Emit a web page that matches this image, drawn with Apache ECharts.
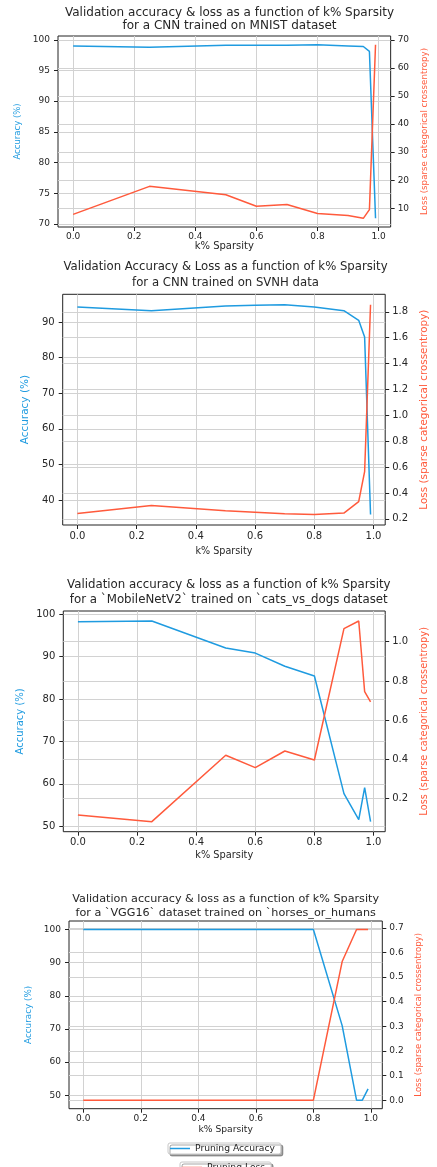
<!DOCTYPE html>
<html>
<head>
<meta charset="utf-8">
<script src="https://cdn.jsdelivr.net/npm/echarts@6/dist/echarts.min.js"></script>
<style>
html,body{margin:0;padding:0;background:#fff;}
#chart{width:437px;height:1167px;}
</style>
</head>
<body>
<div id="chart"></div>
<script>
// ---- data ----
const sparsity = [0, 0.25, 0.5, 0.6, 0.7, 0.8, 0.9, 0.95, 0.97, 0.99];

const mnistAcc  = [99.0, 98.8, 99.1, 99.1, 99.1, 99.2, 99.0, 98.9, 98.1, 70.9];
const mnistLoss = [7.8, 17.8, 14.8, 10.7, 11.3, 8.1, 7.4, 6.4, 9.5, 68.3];

const svhnAcc  = [94.2, 93.2, 94.5, 94.7, 94.85, 94.2, 93.2, 90.5, 85.8, 35.9];
const svhnLoss = [0.241, 0.303, 0.262, 0.251, 0.238, 0.233, 0.244, 0.333, 0.564, 1.854];

const catsAcc  = [98.2, 98.35, 92.0, 90.8, 87.7, 85.4, 57.7, 51.6, 59.1, 51.1];
const catsLoss = [0.117, 0.083, 0.421, 0.358, 0.443, 0.397, 1.066, 1.105, 0.745, 0.693];

const horsesAcc  = [100, 100, 100, 100, 100, 100, 71.0, 48.5, 48.5, 51.9];
const horsesLoss = [0, 0, 0, 0, 0, 0, 0.563, 0.693, 0.693, 0.693];

// tick labels
const xTicks = [0, 0.2, 0.4, 0.6, 0.8, 1.0];
const mnistAccTicks  = [70, 75, 80, 85, 90, 95, 100];
const mnistLossTicks = [10, 20, 30, 40, 50, 60, 70];
const svhnAccTicks   = [40, 50, 60, 70, 80, 90];
const svhnLossTicks  = [0.2, 0.4, 0.6, 0.8, 1.0, 1.2, 1.4, 1.6, 1.8];
const catsAccTicks   = [50, 60, 70, 80, 90, 100];
const catsLossTicks  = [0.2, 0.4, 0.6, 0.8, 1.0];
const horsesAccTicks = [50, 60, 70, 80, 90, 100];
const horsesLossTicks = [0.0, 0.1, 0.2, 0.3, 0.4, 0.5, 0.6, 0.7];

const titles = [
  'Validation accuracy & loss as a function of k% Sparsity\nfor a CNN trained on MNIST dataset',
  'Validation Accuracy & Loss as a function of k% Sparsity\nfor a CNN trained on SVNH data',
  'Validation accuracy & loss as a function of k% Sparsity\nfor a `MobileNetV2` trained on `cats_vs_dogs dataset',
  'Validation accuracy & loss as a function of k% Sparsity\nfor a `VGG16` dataset trained on `horses_or_humans'
];

// ---- styling / layout ----
const BLUE = '#1f9be0';
const RED = '#ff5a3c';
const FONT = 'DejaVu Sans';
const TXT = '#262626';
const GRIDC = '#d2d2d2';

// matplotlib-like 5% margins
function pad(arr) {
  const mn = Math.min.apply(null, arr), mx = Math.max.apply(null, arr);
  const r = mx - mn;
  return [mn - 0.05 * r, mx + 0.05 * r];
}

const panels = [
  {acc: mnistAcc, loss: mnistLoss, accT: mnistAccTicks, lossT: mnistLossTicks, lossFmt: v => String(v), accFmt: v => String(v),
   grid: {left: 58, top: 36, width: 343, height: 191},
   title: {top: 7, size: 12, lh: 12.4},
   tick: 9, xMargin: 5, xName: 10, xGap: 14, yName: 8.5, yGap: 33, rName: 8.7, rGap: 24},
  {acc: svhnAcc, loss: svhnLoss, accT: svhnAccTicks, lossT: svhnLossTicks, lossFmt: v => v.toFixed(1), accFmt: v => String(v),
   grid: {left: 62.7, top: 294.3, width: 325.6, height: 230.7},
   title: {top: 259.5, size: 11.7, lh: 15.7},
   tick: 10, xMargin: 6, xName: 9.6, xGap: 21, yName: 10.5, yGap: 25, rName: 10.4, rGap: 24},
  {acc: catsAcc, loss: catsLoss, accT: catsAccTicks, lossT: catsLossTicks, lossFmt: v => v.toFixed(1), accFmt: v => String(v),
   grid: {left: 63.3, top: 611, width: 331, height: 220.7},
   title: {top: 577.5, size: 11.8, lh: 15},
   tick: 10, xMargin: 6, xName: 9.8, xGap: 19, yName: 10, yGap: 30, rName: 9.8, rGap: 24},
  {acc: horsesAcc, loss: horsesLoss, accT: horsesAccTicks, lossT: horsesLossTicks, lossFmt: v => v.toFixed(1), accFmt: v => String(v),
   grid: {left: 69, top: 921, width: 313.3, height: 187.7},
   title: {top: 892.6, size: 11.2, lh: 13.4},
   tick: 9, xMargin: 5, xName: 9.2, xGap: 16, yName: 8.8, yGap: 30, rName: 8.5, rGap: 24}
];

const legendBase = {
  orient: 'vertical', itemWidth: 20, itemHeight: 1.5, padding: [1, 6, 1, 2],
  backgroundColor: '#fff', borderColor: '#c8c8c8', borderWidth: 1, borderRadius: 2,
  shadowColor: 'rgba(0,0,0,0.35)', shadowOffsetX: 2, shadowOffsetY: 2, shadowBlur: 0,
  textStyle: {fontFamily: FONT, fontSize: 9.2, color: TXT}
};

const option = {
  animation: false,
  backgroundColor: '#fff',
  title: [], grid: [], xAxis: [], yAxis: [], series: [],
  legend: [
    Object.assign({}, legendBase, {data: [{name: 'Pruning Accuracy', icon: 'rect'}], left: 168, top: 1143}),
    Object.assign({}, legendBase, {data: [{name: 'Pruning Loss', icon: 'rect'}], left: 180, top: 1162})
  ]
};

const xExt = pad(sparsity);

panels.forEach((p, i) => {
  const g = p.grid;
  option.title.push({
    text: titles[i], left: g.left + g.width / 2, top: p.title.top, textAlign: 'center', padding: 0,
    textStyle: {fontFamily: FONT, fontSize: p.title.size, lineHeight: p.title.lh, fontWeight: 'normal', color: TXT}
  });
  option.grid.push({
    left: g.left, top: g.top, width: g.width, height: g.height,
    show: true, borderColor: '#222', borderWidth: 1, backgroundColor: 'transparent', containLabel: false
  });
  const accExt = pad(p.acc), lossExt = pad(p.loss);
  option.xAxis.push({
    type: 'value', gridIndex: i, min: xExt[0], max: xExt[1],
    name: 'k% Sparsity', nameLocation: 'middle', nameGap: p.xGap,
    nameTextStyle: {fontFamily: FONT, fontSize: p.xName, color: TXT},
    axisLine: {show: false, onZero: false},
    axisTick: {show: true, length: 4, lineStyle: {color: '#222'}, customValues: xTicks},
    axisLabel: {customValues: xTicks, formatter: v => Number(v).toFixed(1), fontFamily: FONT, fontSize: p.tick, color: TXT, margin: p.xMargin},
    splitLine: {show: true, lineStyle: {color: GRIDC, width: 1}}
  });
  option.yAxis.push({
    type: 'value', gridIndex: i, position: 'left', min: accExt[0], max: accExt[1],
    name: 'Accuracy (%)', nameLocation: 'middle', nameGap: p.yGap, nameRotate: 90,
    nameTextStyle: {fontFamily: FONT, fontSize: p.yName, color: BLUE},
    axisLine: {show: false, onZero: false},
    axisTick: {show: true, length: 4, lineStyle: {color: '#222'}, customValues: p.accT},
    axisLabel: {customValues: p.accT, formatter: v => p.accFmt(Number(v)), fontFamily: FONT, fontSize: p.tick, color: TXT, margin: 8},
    splitLine: {show: true, lineStyle: {color: GRIDC, width: 1}}
  });
  option.yAxis.push({
    type: 'value', gridIndex: i, position: 'right', min: lossExt[0], max: lossExt[1],
    name: 'Loss (sparse categorical crossentropy)', nameLocation: 'middle', nameGap: p.rGap, nameRotate: 90,
    nameTextStyle: {fontFamily: FONT, fontSize: p.rName, color: RED},
    axisLine: {show: false, onZero: false},
    axisTick: {show: true, length: 4, lineStyle: {color: '#222'}, customValues: p.lossT},
    axisLabel: {customValues: p.lossT, formatter: v => p.lossFmt(Number(v)), fontFamily: FONT, fontSize: p.tick, color: TXT, margin: 7},
    splitLine: {show: true, lineStyle: {color: GRIDC, width: 1}}
  });
  option.series.push({
    name: 'Pruning Accuracy', type: 'line', xAxisIndex: i, yAxisIndex: 2 * i,
    data: sparsity.map((x, k) => [x, p.acc[k]]),
    symbol: 'none', lineStyle: {color: BLUE, width: 1.5}, itemStyle: {color: BLUE}, z: 3
  });
  option.series.push({
    name: 'Pruning Loss', type: 'line', xAxisIndex: i, yAxisIndex: 2 * i + 1,
    data: sparsity.map((x, k) => [x, p.loss[k]]),
    symbol: 'none', lineStyle: {color: RED, width: 1.5}, itemStyle: {color: RED}, z: 3
  });
});

const chart = echarts.init(document.getElementById('chart'), null, {renderer: 'canvas'});
chart.setOption(option);
</script>
</body>
</html>
